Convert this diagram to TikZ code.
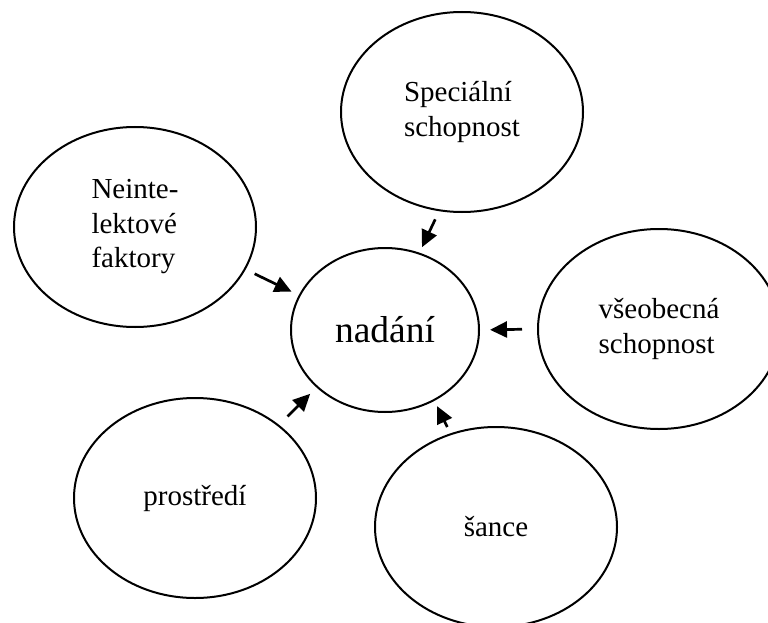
\documentclass[tikz,border=0pt]{standalone}
\usepackage{fontspec}
\setmainfont{Liberation Serif}
\usetikzlibrary{shapes,arrows.meta}

\begin{document}
\begin{tikzpicture}[x=1pt,y=-1pt,
	bubble/.style={ellipse, draw, line width=2pt, minimum width=242pt, minimum height=200pt, inner sep=0pt, align=left, font=\fontsize{29}{34.5}\selectfont},
	pointer/.style={-{Triangle[length=17pt,width=16pt]}, line width=2.7pt}]
		\useasboundingbox (0,0) rectangle (768,623);
		\path (385, 330) node[bubble, minimum width=188pt, minimum height=164pt, font=\fontsize{37.5}{40}\selectfont] (nadani) {nadání}
  		(462, 112) node[bubble] (special) {Speciální\\schopnost}
  		(135, 227) node[bubble] (neintel) {Neinte-\\lektové\\faktory}
  		(659, 329) node[bubble] (obecna) {všeobecná\\schopnost}
  		(195, 498) node[bubble] (prostredi) {prostředí}
  		(496, 527) node[bubble] (sance) {šance};

		\draw[pointer, shorten <=9pt, shorten >=6pt] (special.-103) -- (nadani.66);
		\draw[pointer, shorten <=10pt, shorten >=8pt] (neintel.-21) -- (nadani.158);
		\draw[pointer, shorten <=15pt, shorten >=10pt] (obecna.west) -- (nadani.east);
		\draw[pointer, shorten <=12pt, shorten >=9pt] (prostredi.41) -- (nadani.-140);
		\draw[pointer, shorten <=7pt, shorten >=6pt] (sance.116) -- (nadani.-55);
	\end{tikzpicture}
\end{document}
